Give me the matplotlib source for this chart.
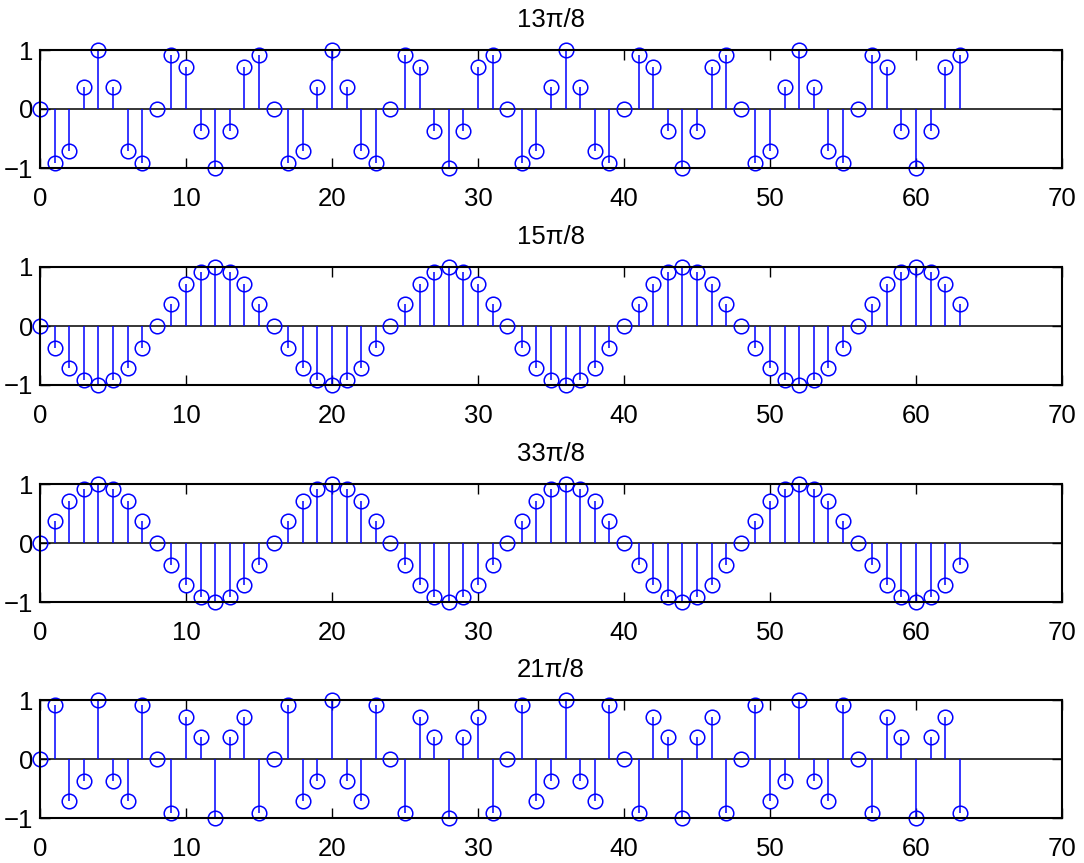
import matplotlib
matplotlib.use("Agg")
import matplotlib.pyplot as plt

plt.rcParams['font.family'] = ['Liberation Sans', 'DejaVu Sans']

titles = ["13\u03c0/8", "15\u03c0/8", "33\u03c0/8", "21\u03c0/8"]
n = list(range(64))

y_13 = [0, -0.92, -0.71, 0.38, 1, 0.38, -0.71, -0.92, 0, 0.92, 0.71, -0.38, -1, -0.38, 0.71, 0.92,
        0, -0.92, -0.71, 0.38, 1, 0.38, -0.71, -0.92, 0, 0.92, 0.71, -0.38, -1, -0.38, 0.71, 0.92,
        0, -0.92, -0.71, 0.38, 1, 0.38, -0.71, -0.92, 0, 0.92, 0.71, -0.38, -1, -0.38, 0.71, 0.92,
        0, -0.92, -0.71, 0.38, 1, 0.38, -0.71, -0.92, 0, 0.92, 0.71, -0.38, -1, -0.38, 0.71, 0.92]
y_15 = [0, -0.38, -0.71, -0.92, -1, -0.92, -0.71, -0.38, 0, 0.38, 0.71, 0.92, 1, 0.92, 0.71, 0.38,
        0, -0.38, -0.71, -0.92, -1, -0.92, -0.71, -0.38, 0, 0.38, 0.71, 0.92, 1, 0.92, 0.71, 0.38,
        0, -0.38, -0.71, -0.92, -1, -0.92, -0.71, -0.38, 0, 0.38, 0.71, 0.92, 1, 0.92, 0.71, 0.38,
        0, -0.38, -0.71, -0.92, -1, -0.92, -0.71, -0.38, 0, 0.38, 0.71, 0.92, 1, 0.92, 0.71, 0.38]
y_33 = [0, 0.38, 0.71, 0.92, 1, 0.92, 0.71, 0.38, 0, -0.38, -0.71, -0.92, -1, -0.92, -0.71, -0.38,
        0, 0.38, 0.71, 0.92, 1, 0.92, 0.71, 0.38, 0, -0.38, -0.71, -0.92, -1, -0.92, -0.71, -0.38,
        0, 0.38, 0.71, 0.92, 1, 0.92, 0.71, 0.38, 0, -0.38, -0.71, -0.92, -1, -0.92, -0.71, -0.38,
        0, 0.38, 0.71, 0.92, 1, 0.92, 0.71, 0.38, 0, -0.38, -0.71, -0.92, -1, -0.92, -0.71, -0.38]
y_21 = [0, 0.92, -0.71, -0.38, 1, -0.38, -0.71, 0.92, 0, -0.92, 0.71, 0.38, -1, 0.38, 0.71, -0.92,
        0, 0.92, -0.71, -0.38, 1, -0.38, -0.71, 0.92, 0, -0.92, 0.71, 0.38, -1, 0.38, 0.71, -0.92,
        0, 0.92, -0.71, -0.38, 1, -0.38, -0.71, 0.92, 0, -0.92, 0.71, 0.38, -1, 0.38, 0.71, -0.92,
        0, 0.92, -0.71, -0.38, 1, -0.38, -0.71, 0.92, 0, -0.92, 0.71, 0.38, -1, 0.38, 0.71, -0.92]
series = [y_13, y_15, y_33, y_21]

xticks = [0, 10, 20, 30, 40, 50, 60, 70]
yticks = [-1, 0, 1]

W, H = 1084, 863
fig = plt.figure(figsize=(W / 100, H / 100), dpi=100)
left, right = 40 / W, 1062 / W
tops_px = [50, 267, 484, 700]
height_px = 118

for top, title, ys in zip(tops_px, titles, series):
    ax = fig.add_axes([left, 1 - (top + height_px) / H, right - left, height_px / H])
    ml, sl, bl = ax.stem(n, ys, linefmt='b-', markerfmt='bo', basefmt='k-')
    ml.set_markerfacecolor('none')
    ml.set_markeredgecolor('b')
    ml.set_markersize(10.5)
    ml.set_markeredgewidth(1.1)
    ml.set_clip_on(False)
    sl.set_linewidth(1.1)
    bl.set_visible(False)
    ax.axhline(0, color='k', lw=1.1, zorder=1)
    ax.set_xlim(0, 70)
    ax.set_ylim(-1, 1)
    ax.set_xticks(xticks)
    ax.set_yticks(yticks)
    ax.tick_params(direction='in', top=True, right=True, length=7.2, width=1,
                   labelsize=18.5, pad=5)
    ax.tick_params(axis='x', pad=14)
    for s in ax.spines.values():
        s.set_linewidth(1.5)
    ax.set_title(title, fontsize=18.5, pad=16.5)

fig.savefig("out.png", dpi=100)
